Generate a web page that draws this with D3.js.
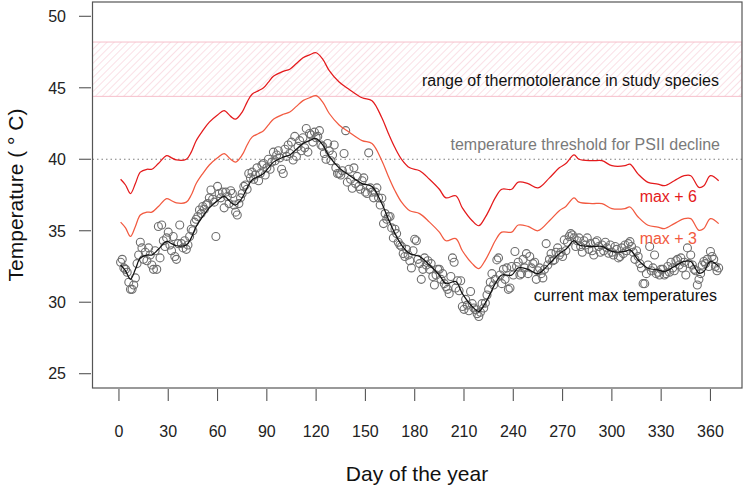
<!DOCTYPE html>
<html>
<head>
<meta charset="utf-8">
<script src="https://cdn.jsdelivr.net/npm/d3@7"></script>
<style>
  html, body { margin: 0; padding: 0; background: #fff; }
  svg { display: block; font-family: "Liberation Sans", Arial, sans-serif; }
</style>
</head>
<body>
<svg id="chart" width="746" height="487"></svg>
<script>
// ---------------- DATA ----------------
const xTicks = [0, 30, 60, 90, 120, 150, 180, 210, 240, 270, 300, 330, 360];
const yTicks = [25, 30, 35, 40, 45, 50];

// daily observed maximum temperatures (day 1..365)
const dailyMax = [
  32.8, 33.0, 32.4, 32.3, 32.1, 31.4, 30.9, 30.9, 31.2, 31.7,
  32.7, 33.3, 34.2, 33.8, 33.0, 33.5, 32.9, 33.8, 33.3, 32.6,
  32.3, 33.6, 32.3, 35.3, 33.1, 35.4, 34.3, 33.9, 34.5, 34.9,
  34.0, 33.6, 34.6, 33.2, 33.0, 34.1, 35.4, 34.1, 33.8, 34.3,
  33.7, 34.0, 34.6, 35.1, 35.0, 35.6, 35.8, 36.0, 36.45, 36.2,
  36.7, 36.5, 36.8, 36.9, 37.3, 37.85, 37.2, 37.0, 34.6, 38.1,
  37.6, 37.3, 37.7, 36.6, 37.7, 37.4, 36.9, 37.8, 37.6, 36.8,
  36.3, 36.1, 36.9, 37.3, 37.6, 38.1, 38.2, 37.9, 39.0, 38.7,
  39.1, 38.6, 38.9, 39.4, 38.5, 39.0, 39.6, 39.7, 38.9, 39.4,
  40.0, 39.3, 39.8, 40.5, 39.9, 40.3, 40.6, 40.1, 39.3, 39.0,
  40.7, 40.2, 41.0, 40.4, 41.2, 39.95, 41.6, 40.2, 40.9, 41.3,
  40.6, 41.5, 40.8, 42.15, 40.5, 41.8, 41.7, 41.2, 41.9, 41.5,
  41.6, 42.0, 41.0, 40.9, 40.4, 40.0, 41.1, 40.6, 39.9, 40.3,
  41.0, 39.4, 39.0, 39.0, 38.9, 39.2, 40.4, 42.0, 38.4, 39.3,
  38.6, 37.97, 39.4, 38.3, 38.8, 38.1, 37.9, 38.5, 38.7, 37.7,
  37.6, 40.45, 38.0, 37.7, 37.3, 37.7, 38.0, 37.3, 36.8, 37.27,
  35.5, 36.2, 35.8, 36.0, 36.0, 35.2, 34.5, 35.1, 34.8, 34.2,
  34.0, 33.9, 33.4, 33.2, 33.7, 33.3, 32.9, 32.4, 33.6, 34.4,
  34.3, 33.0, 32.7, 31.6, 32.3, 33.1, 32.6, 32.9, 32.3, 32.7,
  31.8, 31.2, 31.9, 32.3, 32.3, 31.6, 32.0, 31.3, 31.1, 30.9,
  30.6, 31.8, 33.1, 32.8, 31.0, 31.5, 30.8, 31.5, 29.7, 29.5,
  30.2, 29.8, 29.4, 30.75, 29.9, 29.6, 29.47, 29.2, 29.0, 29.3,
  29.9, 29.6, 29.94, 30.5, 30.9, 31.4, 32.0, 31.2, 31.6, 32.96,
  33.1, 31.9, 31.3, 32.3, 31.6, 32.4, 30.9, 31.0, 32.5, 31.9,
  33.55, 32.5, 32.8, 31.9, 32.0, 33.0, 32.4, 33.4, 32.0, 33.2,
  32.4, 32.7, 32.8, 31.6, 32.2, 32.4, 32.0, 31.7, 32.3, 34.1,
  32.6, 33.0, 33.4, 32.9, 32.96, 33.5, 33.8, 33.3, 33.5, 33.2,
  34.36, 33.6, 34.2, 34.6, 34.8, 34.7, 34.5, 33.9, 34.3, 34.5,
  33.9, 33.5, 34.3, 34.0, 34.5, 33.7, 34.1, 33.6, 33.3, 34.2,
  34.3, 33.9, 33.5, 34.0, 33.6, 34.2, 33.8, 33.43, 34.0, 33.5,
  33.3, 33.9, 33.7, 33.1, 33.2, 33.8, 33.4, 34.0, 33.6, 34.1,
  34.24, 33.9, 33.5, 33.0, 33.6, 33.2, 32.7, 32.4, 31.3, 31.3,
  32.0, 32.6, 33.9, 32.2, 32.4, 33.3, 32.0, 32.1, 31.9, 32.3,
  32.3, 31.9, 32.0, 32.5, 32.1, 32.8, 32.4, 32.2, 32.9, 33.0,
  32.6, 33.1, 32.4, 32.8, 31.9, 33.8, 32.7, 33.3, 32.6, 32.3,
  32.2, 31.2, 31.6, 32.0, 32.6, 32.85, 32.7, 33.0, 32.5, 33.55,
  33.2, 33.0, 32.5, 32.2, 32.4
];

// smoothed current max temperature (read at key days)
const smoothDays = [1, 4, 7, 10, 13, 17, 20, 24, 29, 32, 35, 41, 44, 47, 51, 55, 60, 64, 68, 71,
  75, 78, 81, 85, 88, 91, 94, 100, 104, 108, 112, 116, 120, 124, 128, 134, 140, 148, 154, 160,
  164, 168, 172, 177, 183, 189, 195, 199, 205, 209, 215, 219, 223, 226, 229, 233, 239, 243, 249, 255,
  262, 268, 272, 277, 280, 288, 294, 300, 308, 311, 316, 322, 328, 332, 338, 344, 348, 353, 356, 360, 365];
const smoothTemps = [32.6, 32.2, 31.6, 32.3, 33.1, 33.3, 33.3, 33.7, 34.25, 34.1, 33.95, 34.0, 34.5, 35.3, 36.0, 36.6, 37.1, 37.4, 37.0, 36.8,
  37.3, 38.0, 38.55, 38.8, 39.0, 39.4, 39.8, 40.15, 40.3, 40.7, 41.1, 41.3, 41.45, 41.0, 40.2, 39.4, 38.9, 38.3, 38.1, 36.9,
  35.8, 34.8, 34.0, 33.4, 33.2, 32.6, 31.9, 31.3, 31.45, 30.6, 29.7, 29.35, 29.95, 30.6, 31.3, 31.9, 31.9, 32.4, 32.3, 32.0,
  32.7, 33.4, 33.7, 34.3, 34.0, 33.9, 33.9, 33.55, 33.55, 33.66, 32.96, 32.38, 32.26, 32.15, 32.5, 32.85, 32.85, 32.03, 32.15, 32.85, 32.5];

const warmingOffsets = [6, 3];               // "max + 6", "max + 3"
const toleranceRange = [44.4, 48.2];          // thermotolerance band
const psiiThreshold = 40;

// ---------------- LAYOUT ----------------
const svg = d3.select("#chart");
const L = 92.5, R = 742, T = 2, B = 388;

const x = d3.scaleLinear().domain([-16.1, 379.2]).range([L, R]);
const y = d3.scaleLinear().domain([24.0, 51.0]).range([B, T]);

// hatch pattern for the band
const defs = svg.append("defs");
const pat = defs.append("pattern")
  .attr("id", "hatch").attr("patternUnits", "userSpaceOnUse")
  .attr("width", 5).attr("height", 5)
  .attr("patternTransform", "rotate(45)");
pat.append("line").attr("x1", 0).attr("y1", 0).attr("x2", 0).attr("y2", 5)
  .attr("stroke", "#f6c2cd").attr("stroke-width", 1);
defs.append("clipPath").attr("id", "clip").append("rect")
  .attr("x", L).attr("y", T).attr("width", R - L).attr("height", B - T);

const plot = svg.append("g").attr("clip-path", "url(#clip)");

// thermotolerance band
plot.append("rect")
  .attr("x", L).attr("width", R - L)
  .attr("y", y(toleranceRange[1]))
  .attr("height", y(toleranceRange[0]) - y(toleranceRange[1]))
  .attr("fill", "url(#hatch)")
  .attr("stroke", "#f6bfcb").attr("stroke-width", 1);

// PSII threshold
plot.append("line")
  .attr("x1", L).attr("x2", R)
  .attr("y1", y(psiiThreshold)).attr("y2", y(psiiThreshold))
  .attr("stroke", "#7f7f7f").attr("stroke-width", 1.2)
  .attr("stroke-dasharray", "1.5,3");

// observed points
plot.append("g").selectAll("circle")
  .data(dailyMax)
  .join("circle")
  .attr("cx", (d, i) => x(i + 1))
  .attr("cy", d => y(d))
  .attr("r", 4)
  .attr("fill", "none")
  .attr("stroke", "#6e6e6e")
  .attr("stroke-width", 1.1);

const smooth = smoothDays.map((d, i) => [d, smoothTemps[i]]);
const line = d3.line().x(d => x(d[0])).y(d => y(d[1])).curve(d3.curveCatmullRom.alpha(0.5));

const lineColors = ["#e41a1c", "#f25a40"];
warmingOffsets.forEach((off, k) => {
  plot.append("path")
    .datum(smooth.map(p => [p[0], p[1] + off]))
    .attr("d", line)
    .attr("fill", "none")
    .attr("stroke", lineColors[k])
    .attr("stroke-width", 1.25);
});

plot.append("path")
  .datum(smooth)
  .attr("d", line)
  .attr("fill", "none")
  .attr("stroke", "#111")
  .attr("stroke-width", 1.25);

// box
svg.append("rect")
  .attr("x", L).attr("y", T).attr("width", R - L).attr("height", B - T)
  .attr("fill", "none").attr("stroke", "#555").attr("stroke-width", 1.2);

// y axis
const yAx = svg.append("g");
yTicks.forEach(t => {
  yAx.append("line").attr("x1", 79).attr("x2", 91)
    .attr("y1", y(t)).attr("y2", y(t)).attr("stroke", "#555").attr("stroke-width", 1.1);
  yAx.append("text").attr("x", 66).attr("y", y(t)).attr("dy", "0.36em")
    .attr("text-anchor", "end").attr("font-size", 16).attr("fill", "#222").text(t);
});

// x axis
const xAx = svg.append("g");
xTicks.forEach(t => {
  xAx.append("line").attr("x1", x(t)).attr("x2", x(t))
    .attr("y1", 389).attr("y2", 401).attr("stroke", "#555").attr("stroke-width", 1.1);
  xAx.append("text").attr("x", x(t)).attr("y", 431).attr("dy", "0.36em")
    .attr("text-anchor", "middle").attr("font-size", 16).attr("fill", "#222").text(t);
});

// axis titles
svg.append("text").attr("x", 417).attr("y", 473).attr("dy", "0.36em")
  .attr("text-anchor", "middle").attr("font-size", 21).attr("fill", "#111")
  .text("Day of the year");
svg.append("text")
  .attr("transform", "translate(15,195) rotate(-90)")
  .attr("dy", "0.36em").attr("text-anchor", "middle")
  .attr("font-size", 21).attr("fill", "#111")
  .text("Temperature ( ° C)");

// annotations
const ann = [
  {t: "range of thermotolerance in study species", x: 719, y: 80, c: "#111"},
  {t: "temperature threshold for PSII decline", x: 720, y: 144, c: "#7a7a7a"},
  {t: "max + 6", x: 697, y: 196, c: "#e41a1c"},
  {t: "max + 3", x: 697, y: 238, c: "#f25a40"},
  {t: "current max temperatures", x: 717, y: 295, c: "#111"}
];
svg.append("g").selectAll("text").data(ann).join("text")
  .attr("x", d => d.x).attr("y", d => d.y).attr("dy", "0.36em")
  .attr("text-anchor", "end").attr("font-size", 16).attr("fill", d => d.c)
  .text(d => d.t);
</script>
</body>
</html>
